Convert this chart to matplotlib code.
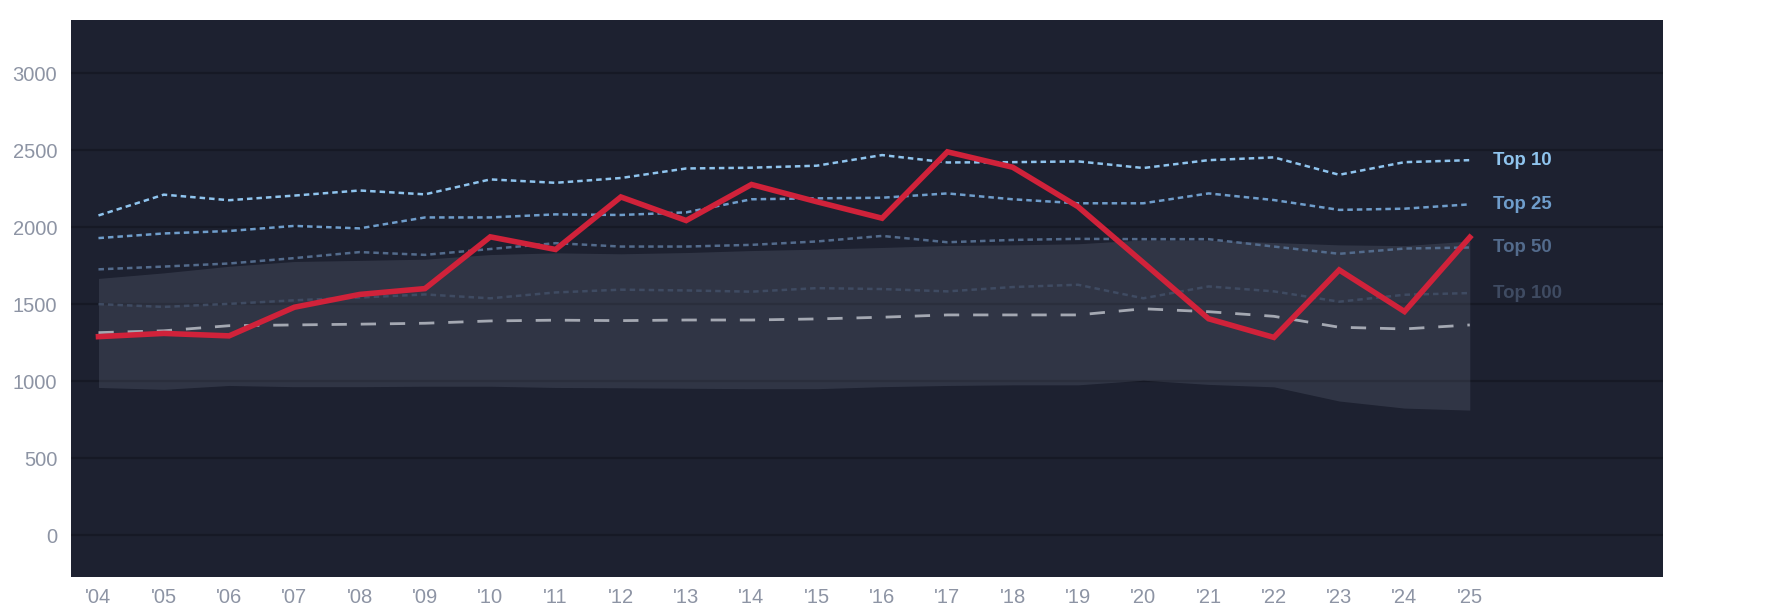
import numpy as np
import matplotlib
matplotlib.use("Agg")
import matplotlib.pyplot as plt

plt.rcParams['font.family'] = ['Liberation Sans', 'DejaVu Sans']

# ── Data ──────────────────────────────────────────
years = list(range(2004, 2026))
year_labels = ["'" + str(y)[2:] for y in years]

team    = [1289, 1310, 1294, 1480, 1563, 1601, 1937, 1855, 2196, 2043, 2277,
           2165, 2058, 2489, 2389, 2133, 1770, 1405, 1284, 1722, 1452, 1934]
top10   = [2076, 2211, 2175, 2205, 2238, 2213, 2310, 2288, 2319, 2381, 2386,
           2399, 2468, 2420, 2422, 2427, 2384, 2435, 2453, 2340, 2422, 2435]
top25   = [1929, 1959, 1975, 2008, 1992, 2063, 2063, 2083, 2079, 2096, 2181,
           2187, 2191, 2219, 2181, 2155, 2155, 2219, 2176, 2112, 2120, 2148]
top50   = [1726, 1744, 1764, 1799, 1838, 1820, 1858, 1896, 1874, 1874, 1885,
           1907, 1943, 1902, 1917, 1924, 1922, 1922, 1874, 1827, 1861, 1868]
top100  = [1500, 1482, 1502, 1525, 1543, 1563, 1538, 1576, 1594, 1589, 1581,
           1604, 1598, 1583, 1611, 1626, 1538, 1615, 1583, 1516, 1561, 1572]
median  = [1315, 1327, 1360, 1365, 1370, 1376, 1391, 1396, 1393, 1397, 1397,
           1404, 1415, 1430, 1430, 1430, 1470, 1451, 1421, 1350, 1339, 1365]
band_hi = [1667, 1703, 1746, 1777, 1784, 1792, 1822, 1833, 1827, 1835, 1848,
           1857, 1868, 1881, 1885, 1892, 1917, 1915, 1900, 1885, 1880, 1910]
band_lo = [959, 947, 972, 964, 964, 967, 967, 959, 957, 954, 951,
           951, 964, 972, 976, 976, 1006, 979, 963, 871, 825, 812]

tiers       = [top10, top25, top50, top100]
tier_names  = ['Top 10', 'Top 25', 'Top 50', 'Top 100']
tier_colors = ['#8fc4ee', '#6f9dcb', '#536b8c', '#3f4b62']
yticks      = [0, 500, 1000, 1500, 2000, 2500, 3000]

# ── Figure ────────────────────────────────────────
BG = '#1d2130'
fig = plt.figure(figsize=(17.85, 6.14), dpi=100)
ax = fig.add_axes([0.0398, 0.0607, 0.8919, 0.9067])
ax.set_facecolor(BG)

ax.fill_between(years, band_lo, band_hi, color='#a0aac0', alpha=0.15,
                linewidth=0, zorder=1)

for vals, col in zip(tiers, tier_colors):
    ax.plot(years, vals, color=col, lw=1.8, ls=(0, (2.2, 1.6)), zorder=2)

ax.plot(years, median, color='#a4a8b2', lw=2.0, ls=(0, (5.5, 5.0)), zorder=3)
ax.plot(years, team, color='#d0223a', lw=4.0, solid_joinstyle='miter', zorder=4)

for vals, col, name in zip(tiers, tier_colors, tier_names):
    ax.text(years[-1] + 0.36, vals[-1], name, color=col, fontsize=13.4,
            fontweight='bold', ha='left', va='center')

ax.set_xlim(2003.58, 2027.96)
ax.set_ylim(-270, 3345)
ax.set_xticks(years)
ax.set_xticklabels(year_labels)
ax.set_yticks(yticks)
ax.grid(axis='y', color='#161925', lw=1.6)
ax.grid(axis='x', visible=False)
ax.set_axisbelow(True)
ax.tick_params(length=0, labelsize=14.5, labelcolor='#8d94a4')
ax.tick_params(axis='y', pad=10)
ax.tick_params(axis='x', pad=8)
for s in ax.spines.values():
    s.set_visible(False)

plt.savefig('out.png', dpi=100, facecolor='white')
